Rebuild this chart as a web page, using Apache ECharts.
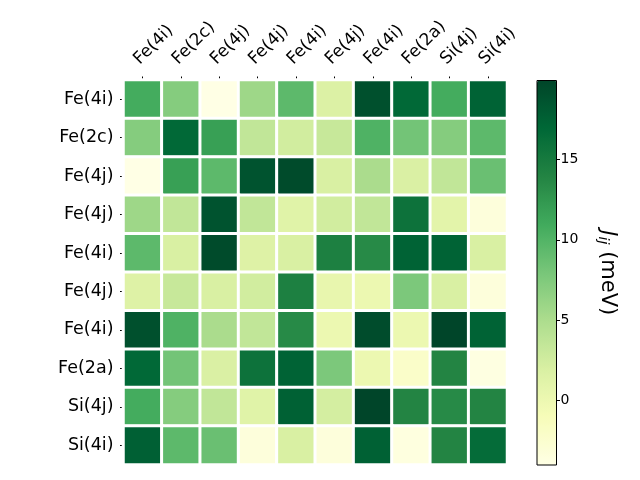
<!DOCTYPE html>
<html>
<head>
<meta charset="utf-8">
<script src="https://cdn.jsdelivr.net/npm/echarts@6/dist/echarts.min.js"></script>
<style>
  html, body { margin: 0; padding: 0; background: #fff; }
  #chart { width: 640px; height: 480px; }
</style>
</head>
<body>
<div id="chart"></div>
<script>
// site labels (same order on both axes)
const sites = ['Fe(4i)', 'Fe(2c)', 'Fe(4j)', 'Fe(4j)', 'Fe(4i)', 'Fe(4j)', 'Fe(4i)', 'Fe(2a)', 'Si(4j)', 'Si(4i)'];

// exchange couplings J_ij in meV, one row per site
const jij = [
    [10.8, 7.2, -4.0, 5.8, 9.4, 1.7, 19.0, 16.8, 10.8, 17.3],
    [7.2, 16.8, 11.8, 3.6, 2.5, 3.2, 10.2, 8.2, 7.2, 9.4],
    [-4.0, 11.8, 9.4, 18.7, 19.4, 2.0, 5.1, 1.9, 3.6, 8.7],
    [5.8, 3.6, 18.7, 3.6, 1.3, 2.5, 3.6, 15.8, 1.0, -3.3],
    [9.4, 2.0, 19.4, 1.5, 2.0, 14.4, 13.5, 17.3, 17.3, 2.0],
    [1.5, 3.2, 2.0, 2.5, 14.4, 0.5, 0.1, 7.7, 2.0, -3.3],
    [19.0, 10.2, 5.1, 3.6, 13.5, 0.1, 19.3, 0.1, 19.9, 17.3],
    [16.8, 8.2, 1.9, 15.8, 17.3, 7.7, 0.1, -2.1, 13.9, -3.7],
    [10.8, 7.2, 3.6, 1.3, 17.5, 2.3, 19.9, 13.9, 13.5, 13.9],
    [17.6, 9.4, 8.7, -3.3, 2.0, -3.3, 17.5, -3.6, 13.9, 16.5]
];

// colorbar ticks
const cbarTicks = [0, 5, 10, 15];

// YlGn colormap
const ylgn = ['#ffffe5', '#f7fcb9', '#d9f0a3', '#addd8e', '#78c679', '#41ab5d', '#238443', '#006837', '#004529'];

const cells = [];
jij.forEach(function (row, i) {
    row.forEach(function (v, j) {
        cells.push([j, i, v]);
    });
});
const flat = [].concat.apply([], jij);
const vmin = Math.min.apply(null, flat);
const vmax = Math.max.apply(null, flat);

const font = 'DejaVu Sans';

const option = {
    backgroundColor: '#fff',
    animation: false,
    grid: [
        { left: 123.5, right: 133, top: 80, bottom: 15.5 },
        // colorbar frame
        { left: 537, top: 80.5, width: 19.5, height: 384.5, show: true, z: 10,
          borderColor: '#000', borderWidth: 1, backgroundColor: 'transparent' }
    ],
    xAxis: [
        {
            type: 'category', data: sites, position: 'top', gridIndex: 0,
            axisLine: { show: false },
            axisTick: { show: true, alignWithLabel: true, length: 3.5, lineStyle: { color: '#000' } },
            axisLabel: { rotate: -45, fontSize: 17, fontFamily: font, color: '#000', margin: 12,
                         verticalAlign: 'bottom', interval: 0 },
            splitLine: { show: false }
        },
        { type: 'category', data: [''], gridIndex: 1, show: false }
    ],
    yAxis: [
        {
            type: 'category', data: sites, inverse: true, gridIndex: 0,
            axisLine: { show: false },
            axisTick: { show: true, alignWithLabel: true, length: 3.5, lineStyle: { color: '#000' } },
            axisLabel: { fontSize: 17.5, fontFamily: font, color: '#000', margin: 10, interval: 0 },
            splitLine: { show: false }
        },
        {
            type: 'value', gridIndex: 1, position: 'right', min: vmin, max: vmax,
            axisLine: { show: false },
            axisTick: { show: true, length: 3.5, customValues: cbarTicks, lineStyle: { color: '#000' } },
            axisLabel: { fontSize: 14, fontFamily: font, color: '#000', margin: 4, customValues: cbarTicks },
            splitLine: { show: false },
            name: '{j|J}{s|ij}{n| (meV)}',
            nameLocation: 'middle',
            nameRotate: -90,
            nameGap: 39,
            nameTextStyle: {
                rich: {
                    j: { fontSize: 21, fontFamily: font, fontStyle: 'italic', color: '#000' },
                    s: { fontSize: 14.5, fontFamily: font, fontStyle: 'italic', color: '#000', verticalAlign: 'bottom', padding: [8, 0, 0, 0] },
                    n: { fontSize: 21, fontFamily: font, color: '#000' }
                }
            }
        }
    ],
    visualMap: {
        type: 'continuous',
        min: vmin, max: vmax,
        seriesIndex: 0,
        calculable: false,
        orient: 'vertical',
        left: 537, top: 80.5,
        itemWidth: 19.5, itemHeight: 384.5,
        padding: 0,
        text: null,
        showLabel: false,
        inRange: { color: ylgn }
    },
    series: [{
        type: 'heatmap',
        xAxisIndex: 0, yAxisIndex: 0,
        data: cells,
        itemStyle: { borderColor: '#fff', borderWidth: 3 },
        emphasis: { disabled: true }
    }]
};

const myChart = echarts.init(document.getElementById('chart'));
myChart.setOption(option);
</script>
</body>
</html>
